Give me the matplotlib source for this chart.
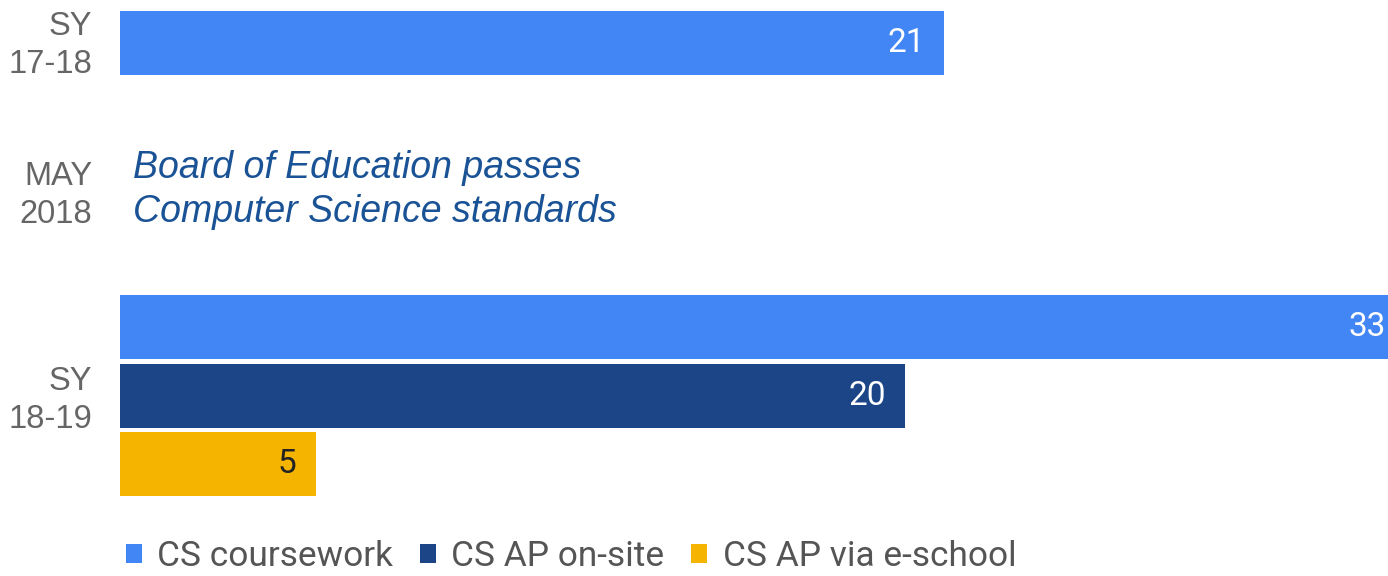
import matplotlib
matplotlib.use("Agg")
from matplotlib import pyplot as plt

# data
series_names = ["CS coursework", "CS AP on-site", "CS AP via e-school"]
series_colors = ["#4285F4", "#1C4587", "#F4B400"]
label_colors = ["white", "white", "#222222"]

sy1718_values = [21]
sy1819_values = [33, 20, 5]

row_labels = ["SY\n17-18", "MAY\n2018", "SY\n18-19"]
note_text = "Board of Education passes\nComputer Science standards"

# slot positions (one slot = one bar row)
pos_1718 = [0.0]
pos_note = 2.15
pos_1819 = [4.15, 5.15, 6.15]
label_pos = [-0.07, 2.12, 5.12]
bar_h = 0.93
x_max = 32.3

fig = plt.figure(figsize=(13.88, 5.76), dpi=100)
ax = fig.add_axes([120 / 1388, 0, 1 - 120 / 1388, 1])


def value_label(y, v, color):
    # keep the label inside the axes when the bar runs past the edge
    x = min(v - 0.5, x_max - 0.05)
    ax.text(x, y, str(v), ha="right", va="center", color=color,
            fontsize=24, family="Roboto")


# SY 17-18
ax.barh(pos_1718, sy1718_values, height=bar_h, color=series_colors[0])
for y, v in zip(pos_1718, sy1718_values):
    value_label(y, v, label_colors[0])

# SY 18-19
handles = []
for y, v, c, lc, name in zip(pos_1819, sy1819_values, series_colors, label_colors, series_names):
    b = ax.barh([y], [v], height=bar_h, color=c, label=name)
    handles.append(b)
    value_label(y, v, lc)

ax.text(0.33, pos_note, note_text, ha="left", va="center", color="#1A5296",
        fontsize=27, style="italic", family="Liberation Sans", linespacing=1.29)

ax.set_xlim(0, x_max)
ax.set_ylim(7.78, -0.628)

ax.set_yticks(label_pos)
ax.set_yticklabels(row_labels, fontsize=23.5, color="#666666", family="Liberation Sans",
                   linespacing=1.3)
ax.tick_params(axis="y", length=0, pad=20)
ax.set_xticks([])
for s in ax.spines.values():
    s.set_visible(False)

fig.legend(handles=handles, labels=series_names, loc="lower left",
           bbox_to_anchor=(94 / 1388, -0.05), ncol=3, frameon=False,
           prop={"family": "Roboto", "size": 25.4}, labelcolor="#555555",
           handlelength=0.46, handleheight=0.46, handletextpad=0.43, columnspacing=0.76)

fig.savefig("out.png", dpi=100)
